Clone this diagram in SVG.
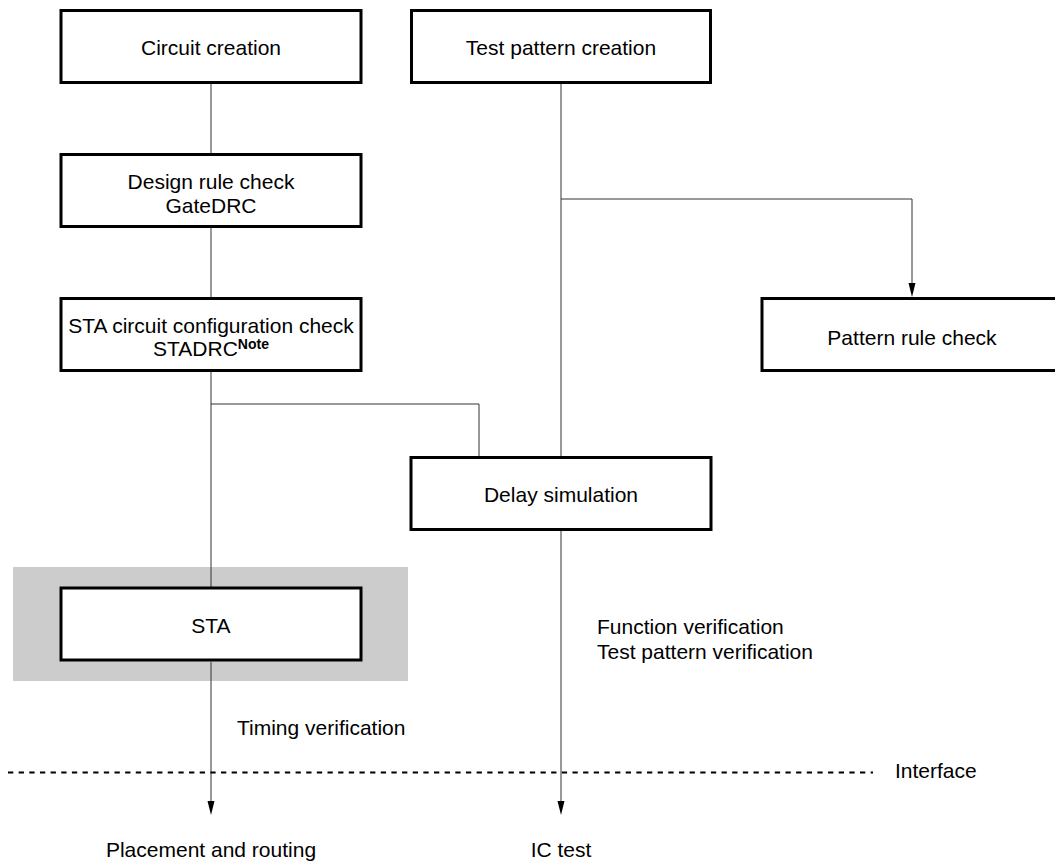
<svg xmlns="http://www.w3.org/2000/svg" width="1055" height="867" viewBox="0 0 1055 867">
<style>
.box{fill:#fff;stroke:#000;stroke-width:3}
.t{font-family:"Liberation Sans",Arial,sans-serif;font-size:21px;fill:#000}
.m{text-anchor:middle}
.c{fill:none;stroke:#333;stroke-width:1}
.sup{font-weight:bold;font-size:14px}
</style>
<defs>
<marker id="arr" markerUnits="userSpaceOnUse" markerWidth="8" markerHeight="15" refX="4" refY="14" orient="auto-start-reverse" viewBox="0 0 8 15">
<path d="M0.5,0 L7.5,0 L4,14 Z" fill="#000" transform="rotate(0)"/>
</marker>
</defs>
<rect id="sta-highlight" x="13" y="567" width="395" height="114" fill="#cccccc"/>
<g id="connectors">
<line class="c" x1="211" y1="84" x2="211" y2="153"/>
<line class="c" x1="211" y1="228" x2="211" y2="297"/>
<line class="c" x1="211" y1="372" x2="211" y2="587"/>
<polyline class="c" points="211,404 479,404 479,456"/>
<path d="M211,662 V801" class="c"/>
<path d="M207.5,801 L214.5,801 L211,815 Z" fill="#000"/>
<line class="c" x1="561" y1="84" x2="561" y2="456"/>
<polyline class="c" points="561,199 912,199 912,283"/>
<path d="M908.5,283 L915.5,283 L912,297 Z" fill="#000"/>
<path d="M561,531 V801" class="c"/>
<path d="M557.5,801 L564.5,801 L561,815 Z" fill="#000"/>
<line x1="8" y1="772.5" x2="873" y2="772.5" stroke="#000" stroke-width="2" stroke-dasharray="5.3 5.35"/>
</g>
<g id="circuit-creation">
<rect class="box" x="61" y="10.5" width="300" height="72"/>
<text class="t m" x="211" y="55">Circuit creation</text>
</g>
<g id="test-pattern-creation">
<rect class="box" x="411.5" y="10.5" width="299" height="72"/>
<text class="t m" x="561" y="55">Test pattern creation</text>
</g>
<g id="design-rule-check">
<rect class="box" x="61" y="154.5" width="300" height="72"/>
<text class="t m" x="211" y="189">Design rule check</text>
<text class="t m" x="211" y="213">GateDRC</text>
</g>
<g id="sta-config-check">
<rect class="box" x="61" y="298.5" width="300" height="72"/>
<text class="t m" x="211" y="333">STA circuit configuration check</text>
<text class="t m" x="211" y="356">STADRC<tspan class="sup" dy="-7">Note</tspan></text>
</g>
<g id="pattern-rule-check">
<rect class="box" x="762" y="298.5" width="300" height="72"/>
<text class="t m" x="912" y="345">Pattern rule check</text>
</g>
<g id="delay-simulation">
<rect class="box" x="411" y="457.5" width="300" height="72"/>
<text class="t m" x="561" y="502">Delay simulation</text>
</g>
<g id="sta">
<rect class="box" x="61" y="588" width="300" height="72"/>
<text class="t m" x="211" y="633">STA</text>
</g>
<g id="labels">
<text class="t" x="597" y="634">Function verification</text>
<text class="t" x="597" y="659">Test pattern verification</text>
<text class="t" x="237" y="735">Timing verification</text>
<text class="t" x="895" y="778">Interface</text>
<text class="t m" x="211" y="857">Placement and routing</text>
<text class="t m" x="561" y="857">IC test</text>
</g>
</svg>
